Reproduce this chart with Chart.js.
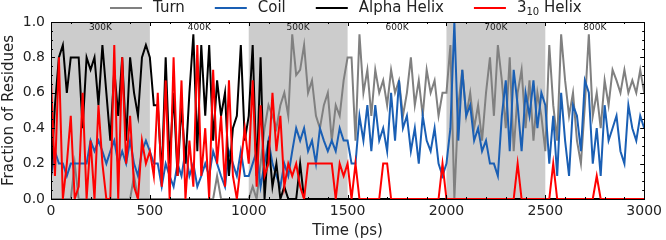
<!DOCTYPE html>
<html>
<head>
<meta charset="utf-8">
<script src="https://cdn.jsdelivr.net/npm/chart.js@4"></script>
<style>
html,body{margin:0;padding:0;background:#fff}
#wrap{width:666px;height:240px}
</style>
</head>
<body>
<div id="wrap"><canvas id="myChart"></canvas></div>
<script>
// sampling every 20 ps, 0..3000
const times = []
for (let t = 0; t <= 3000; t += 20) times.push(t)

const turn = [
0,0,0,0,0,0,0.2,0,0,0,0,0,0,0,0,0,0,0,0,0,0,0.13,0,0,0,
0,0,0,0,0,0,0,0,0,0,0,0,0,0,0,0,0,0.13,0,0,0,0,0,0,0,
0,0.07,0,0.2,0.4,0.53,0.47,0.4,0.53,0.6,0.47,0.93,0.7,0.73,0.87,0.6,0.67,0.47,0.4,0.53,0.6,0.33,0.53,0.47,0.67,
0.8,0.8,0.33,0.93,0.6,0.73,0.47,0.73,0.6,0.67,0.53,0.73,0.6,0.67,0.47,0.6,0.8,0.53,0.67,0.47,0.73,0.6,0.67,0.47,0.6,
0.6,0.87,0,0.53,0.73,0.47,0.6,0.4,0.53,0.33,0.6,0.8,0.47,0.87,0.67,0.4,0.8,0.27,0.6,0.73,0.4,0.67,0.33,0.6,0.47,
0.27,0.87,0.53,0.33,0.93,0.67,0.47,0.6,0.33,0.2,0.53,0.93,0.47,0.6,0.4,0.67,0.53,0.73,0.67,0.6,0.73,0.6,0.67,0.6,0.73,
0.6]

const coil = [
0.13,0.27,0.2,0.2,0.13,0.2,0.2,0.2,0.2,0.2,0.33,0.27,0.33,0.27,0.2,0.27,0.33,0.2,0.27,0.2,0.33,0.2,0.13,0.27,0.33,
0.27,0.2,0.2,0.07,0.2,0.13,0.07,0.2,0.13,0.27,0.13,0.2,0.07,0.13,0.2,0.13,0.27,0.2,0.13,0.07,0.27,0.2,0.13,0.27,0.13,
0.13,0.2,0.27,0.07,0.2,0.33,0.2,0.13,0.07,0.2,0.13,0.27,0.4,0.33,0.4,0.27,0.33,0.2,0.4,0.33,0.27,0.33,0.27,0.4,0.33,
0.33,0.2,0.2,0.47,0.33,0.53,0.27,0.53,0.33,0.4,0.27,0.6,0.33,0.67,0.4,0.47,0.27,0.4,0.2,0.47,0.33,0.27,0.4,0.2,0.13,
0.2,0.4,1.0,0.33,0.73,0.47,0.53,0.33,0.4,0.27,0.33,0.2,0.2,0.13,0.47,0.67,0.27,0.73,0.53,0.27,0.6,0.47,0.67,0.4,0.6,
0.53,0.2,0.47,0.13,0.6,0.33,0.13,0.53,0.47,0.27,0.67,0.6,0.2,0.4,0.13,0.53,0.33,0.4,0.47,0.27,0.2,0.53,0.4,0.33,0.47,
0.4]

const alpha = [
0.13,0.53,0.8,0.87,0.6,0.8,0.8,0.8,0.4,0.8,0.73,0.8,0.53,0.87,0.6,0.33,0.73,0.47,0.8,0.33,0.8,0.6,0.47,0.8,0.87,
0.8,0.53,0.53,0.13,0.8,0.2,0.6,0.13,0.53,0.2,0.6,0.93,0.27,0.87,0.47,0.87,0.33,0.67,0.47,0.6,0.13,0.4,0.47,0.87,0.33,
0.47,0.87,0.13,0.8,0,0.33,0.07,0.2,0,0.07,0,0,0,0.2,0,0,0,0,0,0,0,0,0,0,0,
0,0,0,0,0,0,0,0,0,0,0,0,0,0,0,0,0,0,0,0,0,0,0,0,0,
0,0,0,0,0,0,0,0,0,0,0,0,0,0,0,0,0,0,0,0,0,0,0,0,0,
0,0,0,0,0,0,0,0,0,0,0,0,0,0,0,0,0,0,0,0,0,0,0,0,0,
0]

const helix310 = [
0.67,0.13,0.8,0,0.2,0.47,0,0.07,0.6,0,0.33,0,0.53,0.2,0,0,0.87,0,0.8,0.2,0.47,0.07,0,0.33,0.2,
0.27,0.13,0.6,0.07,0.67,0,0.8,0.13,0.67,0,0.33,0.07,0.87,0.13,0.4,0,0.73,0.2,0.47,0.07,0.67,0.13,0,0.2,0.4,
0.2,0.67,0.07,0.53,0.13,0.2,0.6,0.27,0.47,0.07,0.2,0.13,0.2,0.07,0,0.2,0.2,0.2,0.2,0.2,0.2,0.2,0,0.2,0.13,
0.2,0,0.2,0,0,0,0,0,0,0.2,0.2,0,0,0,0,0,0,0,0,0,0,0,0,0,0.2,
0,0,0,0,0,0,0,0,0,0,0,0,0,0,0,0,0,0,0.2,0,0,0,0,0,0,
0,0,0.2,0,0,0,0,0,0,0,0,0,0,0.13,0,0,0,0,0,0,0,0,0,0,0,
0]

const bands = [[0,500],[1000,1500],[2000,2500]]
const tempLabels = ["300K","400K","500K","600K","700K","800K"]

const names = ["Turn","Coil","Alpha Helix","3_10 Helix"]
const colors = ["#808080","#1a5fb4","#000000","#ff0000"]
const series = [turn, coil, alpha, helix310]

function pts(arr){
  return times.map((t,i)=>({x:t,y:arr[i]}))
}

const FONT = "'DejaVu Sans', sans-serif"

const decor = {
  id:"decor",
  beforeDatasetsDraw(chart){
    const c = chart.ctx, a = chart.chartArea
    const x = chart.scales.x
    c.save()
    c.fillStyle = "#cccccc"
    bands.forEach(b=>{
      const x0 = x.getPixelForValue(b[0]), x1 = x.getPixelForValue(b[1])
      c.fillRect(x0, a.top, x1-x0, a.bottom-a.top)
    })
    c.fillStyle = "#222"
    c.font = "9px " + FONT
    c.textAlign = "center"
    c.textBaseline = "middle"
    tempLabels.forEach((l,i)=>{
      c.fillText(l, x.getPixelForValue(250+500*i), a.top+6)
    })
    c.restore()
  },
  afterDraw(chart){
    const c = chart.ctx, a = chart.chartArea
    const x = chart.scales.x, y = chart.scales.y
    c.save()
    c.strokeStyle = "#000"
    c.lineWidth = 1
    c.beginPath()
    // inward ticks all sides
    for (let t = 0; t <= 3000; t += 100){
      const px = Math.round(x.getPixelForValue(t))+0.5
      const len = t % 500 === 0 ? 4 : 2
      c.moveTo(px, a.bottom); c.lineTo(px, a.bottom-len)
      c.moveTo(px, a.top); c.lineTo(px, a.top+len)
    }
    for (let k = 0; k <= 20; k++){
      const py = Math.round(y.getPixelForValue(k*0.05))+0.5
      const len = k % 4 === 0 ? 4 : 2
      c.moveTo(a.left, py); c.lineTo(a.left+len, py)
      c.moveTo(a.right, py); c.lineTo(a.right-len, py)
    }
    c.stroke()
    c.strokeRect(Math.round(a.left)+0.5, Math.round(a.top)+0.5, Math.round(a.right-a.left), Math.round(a.bottom-a.top))

    // legend
    c.font = "15px " + FONT
    c.textBaseline = "middle"
    c.textAlign = "left"
    let lx = 110
    const ly = 8
    names.forEach((n,i)=>{
      c.strokeStyle = colors[i]
      c.lineWidth = 2
      c.beginPath(); c.moveTo(lx, ly); c.lineTo(lx+32, ly); c.stroke()
      let tx = lx + 43
      c.fillStyle = "#222"
      if (i === 3){
        c.font = "15px " + FONT
        c.fillText("3", tx, ly); tx += c.measureText("3").width
        c.font = "10px " + FONT
        c.fillText("10", tx, ly+4); tx += c.measureText("10").width
        c.font = "15px " + FONT
        c.fillText(" Helix", tx, ly); tx += c.measureText(" Helix").width
      } else {
        c.fillText(n, tx, ly); tx += c.measureText(n).width
      }
      lx = tx + 30
    })
    c.restore()
  }
}

new Chart(document.getElementById("myChart"), {
  type:"line",
  data:{
    datasets: series.map((s,i)=>({
      label:names[i],
      data:pts(s),
      borderColor:colors[i],
      borderWidth:2,
      pointRadius:0,
      tension:0,
      fill:false,
      order:4-i
    }))
  },
  options:{
    responsive:true,
    maintainAspectRatio:false,
    animation:false,
    devicePixelRatio:1,
    layout:{padding:{top:22,right:21,left:0,bottom:0}},
    plugins:{legend:{display:false},tooltip:{enabled:false}},
    scales:{
      x:{
        type:"linear", min:0, max:3000,
        grid:{display:false, drawTicks:false},
        border:{display:false},
        ticks:{stepSize:500, padding:4, color:"#222", font:{family:FONT,size:14}, maxRotation:0, callback:v=>String(v)},
        title:{display:true, text:"Time (ps)", color:"#222", font:{family:FONT,size:15}, padding:{top:0,bottom:0}},
        afterFit(s){ s.height = 41 }
      },
      y:{
        min:0, max:1,
        grid:{display:false, drawTicks:false},
        border:{display:false},
        ticks:{stepSize:0.2, padding:6, color:"#222", font:{family:FONT,size:14}, callback:v=>v.toFixed(1)},
        title:{display:true, text:"Fraction of Residues", color:"#222", font:{family:FONT,size:15}, padding:{top:0,bottom:0}},
        afterFit(s){ s.width = 51 }
      }
    }
  },
  plugins:[decor]
})
</script>
</body>
</html>
